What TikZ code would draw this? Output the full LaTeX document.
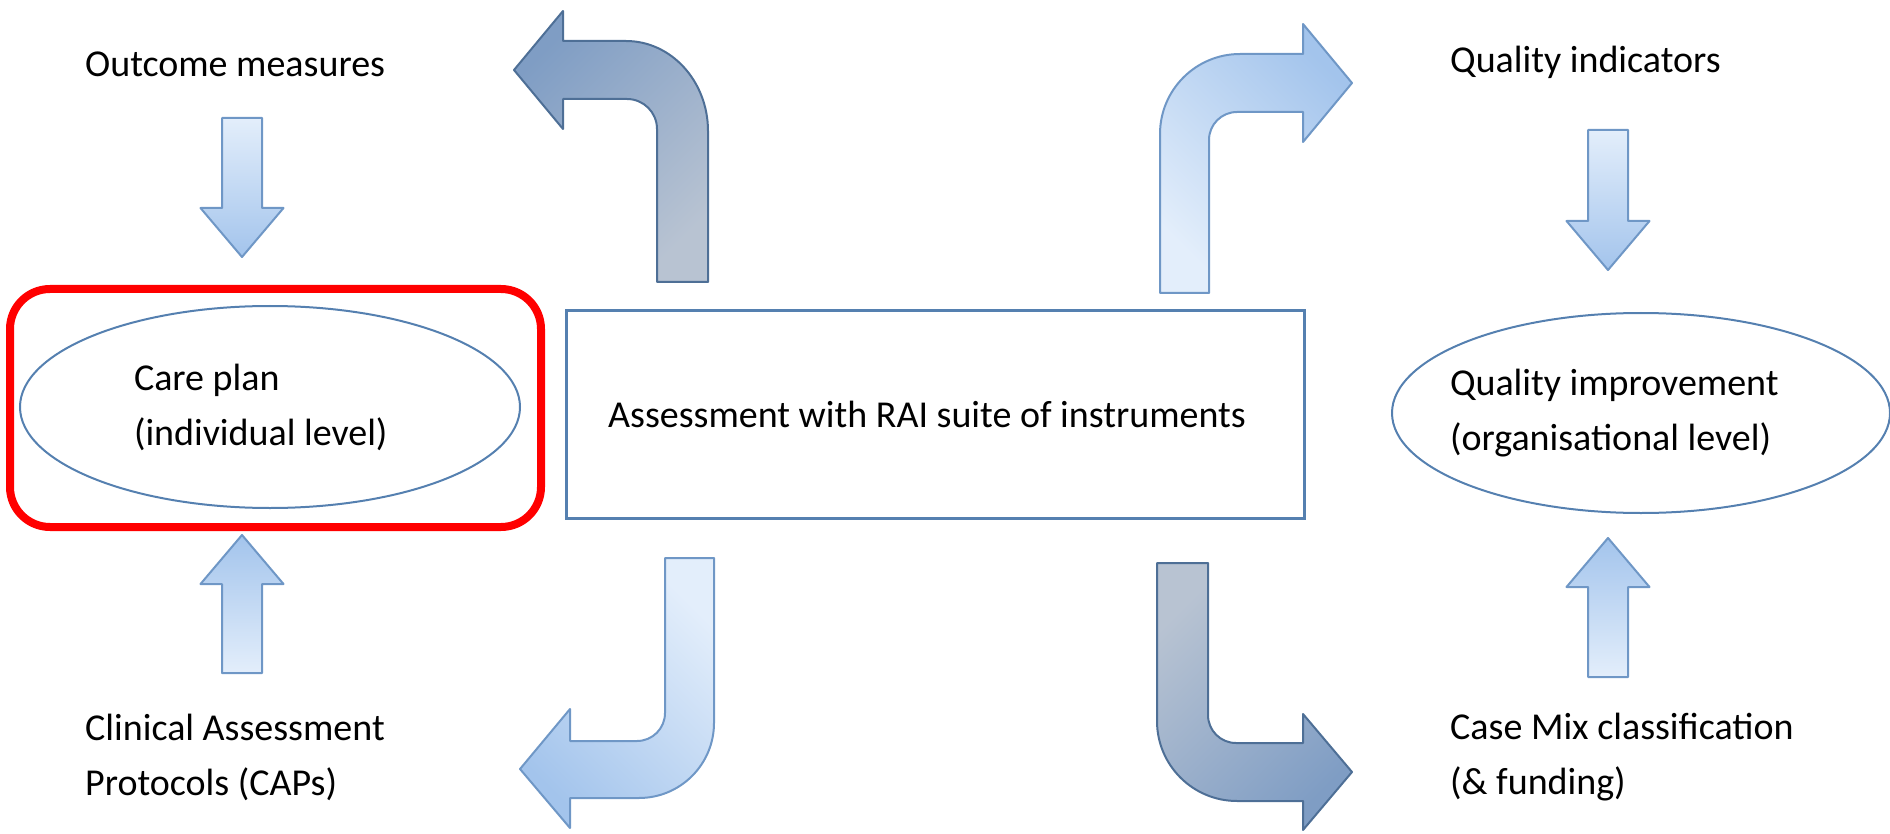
\documentclass[tikz,border=0pt]{standalone}
\usepackage{fontspec}
\setmainfont{Carlito}
\usetikzlibrary{shapes.geometric}
\definecolor{lineblue}{HTML}{5580B0}
\definecolor{lightA}{HTML}{E3EEFB}
\definecolor{lightB}{HTML}{A3C4EC}
\definecolor{lightedge}{HTML}{6F97C6}
\definecolor{darkA}{HTML}{B8C3D2}
\definecolor{darkB}{HTML}{7F9DC4}
\definecolor{darkedge}{HTML}{4E6F96}
\definecolor{hlred}{HTML}{FF0000}
\begin{document}
\begin{tikzpicture}[x=1pt,y=-1pt,
  txt/.style={inner sep=0pt, align=flush left, font=\fontsize{38}{55}\selectfont},
  lbl/.style={txt, anchor=west},
  shape line/.style={draw=lineblue, line width=2pt},
  lightarrow/.style={draw=lightedge, line width=2pt, line join=round},
  darkarrow/.style={draw=darkedge, line width=2pt, line join=round}]
\useasboundingbox (0,0) rectangle (1890,834);

% highlight frame
\node[draw=hlred, line width=8pt, rounded corners=40pt, minimum width=531pt, minimum height=238pt, inner sep=0pt] (hl) at (275.5,408) {};

% ellipses and box
\node[ellipse, shape line, txt, text width=272pt, minimum width=500pt, minimum height=202pt] (care) at (270,407) {Care plan\\(individual level)};
\node[ellipse, shape line, txt, text width=382pt, inner xsep=-15pt, minimum width=498pt, minimum height=200pt] (qimp) at (1641,413) {Quality improvement\\(organisational level)};
\node[draw=lineblue, line width=3pt, txt, minimum width=738pt, minimum height=207pt, align=center] (rai) at (935,414.5) {Assessment with RAI suite of instruments\hspace*{16pt}};

% side labels
\node[lbl] (om) at (85,64) {Outcome measures};
\node[lbl] (qi) at (1450,62) {Quality indicators};
\node[lbl] (cap) at (85,757.5) {Clinical Assessment\\Protocols (CAPs)};
\node[lbl] (cm) at (1450,757.5) {Case Mix classification\\(\& funding)};

% small straight arrows
\draw[lightarrow, top color=lightA, bottom color=lightB]
  (222,118) -- (262,118) -- (262,208) -- (283.5,208) -- (242,257) -- (200.5,208) -- (222,208) -- cycle;
\draw[lightarrow, top color=lightB, bottom color=lightA]
  (222,673) -- (262,673) -- (262,584) -- (283.5,584) -- (242,535) -- (200.5,584) -- (222,584) -- cycle;
\draw[lightarrow, top color=lightA, bottom color=lightB]
  (1588,130) -- (1628,130) -- (1628,221) -- (1649.5,221) -- (1608,270) -- (1566.5,221) -- (1588,221) -- cycle;
\draw[lightarrow, top color=lightB, bottom color=lightA]
  (1588,677) -- (1628,677) -- (1628,587) -- (1649.5,587) -- (1608,538) -- (1566.5,587) -- (1588,587) -- cycle;

% bent arrows
\draw[darkarrow, top color=darkB, bottom color=darkA, shading angle=45]
  (657,282) -- (657,129) .. controls (657,112.4) and (643.6,99) .. (627,99) -- (563,99) -- (563,129) -- (514,70) -- (563,11) -- (563,41) -- (626,41) .. controls (671.3,41) and (708,81.3) .. (708,131) -- (708,282) -- cycle;
\draw[lightarrow, top color=lightB, bottom color=lightA, shading angle=-45]
  (1160,293) -- (1160,134) .. controls (1160,89.8) and (1195.8,54) .. (1240,54) -- (1303,54) -- (1303,24) -- (1352,83) -- (1303,142) -- (1303,112) -- (1237,112) .. controls (1221.5,112) and (1209,124.5) .. (1209,140) -- (1209,293) -- cycle;
\draw[lightarrow, top color=lightA, bottom color=lightB, shading angle=-45]
  (665,558) -- (714,558) -- (714,723) .. controls (714,764.4) and (680.4,798) .. (639,798) -- (570,798) -- (570,828) -- (520,769) -- (570,709) -- (570,741) -- (637,741) .. controls (652.5,741) and (665,728.5) .. (665,713) -- cycle;
\draw[darkarrow, top color=darkA, bottom color=darkB, shading angle=45]
  (1157,563) -- (1208,563) -- (1208,715) .. controls (1208,730.5) and (1220.5,743) .. (1236,743) -- (1303,743) -- (1303,714) -- (1352,772) -- (1303,830) -- (1303,801) -- (1237,801) .. controls (1192.8,801) and (1157,765.2) .. (1157,721) -- cycle;
\end{tikzpicture}
\end{document}
